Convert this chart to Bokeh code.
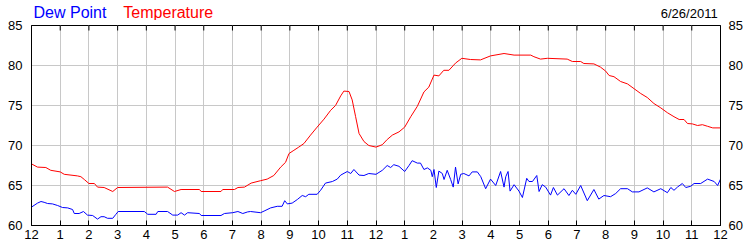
from bokeh.plotting import figure
from bokeh.layouts import column
from bokeh.models import LinearAxis, Range1d, FixedTicker, Label
from bokeh.embed import file_html
from bokeh.resources import INLINE

# ---- data (hours since midnight, degrees F) ----
temp_hours = [0.00, 0.21, 0.50, 0.67, 1.00, 1.14, 1.60, 1.72, 1.84, 2.00, 2.19, 2.30, 2.53, 2.83,
              3.00, 4.74, 4.98, 5.21, 5.85, 5.91, 6.60, 6.66, 7.07, 7.19, 7.42, 7.65,
              7.98, 8.21, 8.44, 8.68, 8.85, 8.97, 9.14, 9.31, 9.49, 9.72, 9.95, 10.19, 10.42,
              10.59, 10.77, 10.88, 11.06, 11.17, 11.29, 11.41, 11.58, 11.75, 12.00, 12.22,
              12.39, 12.57, 12.80, 13.00, 13.21, 13.44, 13.67, 13.84, 14.02, 14.19, 14.36,
              14.54, 14.77, 14.99, 15.29, 15.64, 15.99, 16.46, 16.81, 17.39, 17.50, 17.73,
              17.97, 18.66, 18.84, 19.13, 19.24, 19.59, 19.82, 20.00, 20.12, 20.29, 20.52,
              20.76, 20.99, 21.22, 21.45, 21.68, 21.92, 22.15, 22.38, 22.56, 22.73, 22.85,
              23.02, 23.20, 23.37, 23.55, 23.73, 24.00]
temperature = [67.7, 67.3, 67.25, 66.9, 66.7, 66.4, 66.2, 66.1, 65.75, 65.25, 65.25, 64.8, 64.75, 64.25,
               64.75, 64.8, 64.25, 64.5, 64.5, 64.25, 64.25, 64.5, 64.5, 64.75, 64.8, 65.3,
               65.6, 65.8, 66.25, 67.3, 67.9, 69.0, 69.4, 69.8, 70.25, 71.3, 72.3, 73.3, 74.4,
               75.0, 76.2, 76.8, 76.75, 75.7, 73.6, 71.5, 70.5, 70.0, 69.8, 70.1,
               70.75, 71.3, 71.7, 72.3, 73.6, 74.9, 76.7, 77.3, 78.8, 78.7, 79.4,
               79.4, 80.3, 80.9, 80.75, 80.7, 81.2, 81.5, 81.3, 81.3, 81.1, 80.8,
               80.9, 80.8, 80.5, 80.5, 80.25, 80.2, 79.8, 79.3, 78.75, 78.6, 78.0,
               77.7, 77.1, 76.5, 76.0, 75.25, 74.7, 74.1, 73.6, 73.25, 73.25, 72.75,
               72.7, 72.5, 72.6, 72.4, 72.2, 72.2]

dew_hours = [0.00, 0.21, 0.33, 0.44, 0.56, 0.73, 0.91, 1.08, 1.26, 1.43, 1.49, 1.66, 1.81, 1.95,
             2.13, 2.30, 2.42, 2.53, 2.65, 2.83, 2.94, 3.02, 3.93, 4.05, 4.34, 4.40, 4.74,
             4.92, 5.09, 5.21, 5.33, 5.44, 5.85, 5.91, 6.60, 6.72, 7.01, 7.19, 7.36, 7.53,
             7.63, 7.98, 8.10, 8.33, 8.56, 8.73, 8.82, 8.91, 9.08, 9.26, 9.43, 9.55, 9.66,
             9.95, 10.07, 10.24, 10.48, 10.65, 10.77, 11.00, 11.12, 11.23, 11.41, 11.58,
             11.75, 12.00, 12.22, 12.39, 12.51, 12.62, 12.80, 13.00, 13.15, 13.26, 13.44,
             13.55, 13.67, 13.79, 13.91, 13.96, 14.02, 14.10, 14.19, 14.31, 14.37, 14.48,
             14.60, 14.69, 14.77, 14.86, 14.95, 15.06, 15.24, 15.35, 15.53, 15.65, 15.82,
             15.99, 16.17, 16.34, 16.46, 16.52, 16.60, 16.67, 16.81, 16.98, 17.10, 17.25,
             17.33, 17.45, 17.60, 17.68, 17.79, 17.91, 18.08, 18.18, 18.32, 18.55, 18.72,
             18.84, 18.96, 19.13, 19.36, 19.59, 19.76, 19.94, 20.17, 20.35, 20.52, 20.76,
             20.93, 21.16, 21.45, 21.68, 21.92, 22.15, 22.27, 22.38, 22.50, 22.67, 22.79,
             22.96, 23.08, 23.31, 23.55, 23.78, 23.90, 24.00]
dew_point = [62.3, 62.8, 63.0, 62.9, 62.75, 62.7, 62.5, 62.25, 62.2, 62.0, 61.5, 61.5, 61.75, 61.3,
             61.25, 60.8, 61.1, 61.1, 60.9, 60.9, 61.4, 61.75, 61.75, 61.4, 61.4, 61.75, 61.75,
             61.3, 61.3, 61.6, 61.3, 61.6, 61.5, 61.25, 61.25, 61.5, 61.6, 61.75, 61.5, 61.7,
             61.75, 61.6, 61.8, 62.2, 62.4, 62.4, 63.1, 62.7, 62.8, 63.25, 63.75, 63.6, 63.9,
             63.9, 64.4, 65.3, 65.5, 65.8, 66.3, 66.75, 66.5, 67.0, 66.3, 66.25,
             66.5, 66.4, 66.9, 67.5, 67.25, 67.6, 67.4, 66.75, 67.5, 68.1, 67.8,
             67.8, 67.0, 67.2, 66.9, 66.1, 67.0, 64.75, 66.8, 66.5, 65.75, 66.9,
             65.75, 64.8, 67.3, 65.2, 66.4, 66.5, 66.2, 66.7, 66.7, 66.1, 64.6,
             65.8, 65.0, 66.75, 64.8, 66.1, 66.75, 64.3, 65.1, 64.3, 63.5, 65.9,
             65.5, 65.5, 66.25, 64.25, 65.1, 64.8, 63.8, 64.75, 63.8, 64.6, 63.75,
             64.4, 63.9, 65.0, 63.1, 64.5, 63.3, 63.75, 63.6, 64.0, 64.6, 64.6,
             64.2, 64.2, 64.7, 64.2, 64.6, 64.1, 64.75, 64.4, 64.8, 65.25, 64.75,
             64.9, 65.25, 65.25, 65.8, 65.5, 65.0, 65.8]

hour_ticks = list(range(0, 25))
hour_labels = ["12", "1", "2", "3", "4", "5", "6", "7", "8", "9", "10", "11",
               "12", "1", "2", "3", "4", "5", "6", "7", "8", "9", "10", "11", "12"]
temp_ticks = [60, 65, 70, 75, 80, 85]
date_text = "6/26/2011"

FONT = "Liberation Sans"
TOP_H = 20          # header strip height
MAIN_TOP = 5        # space above the main frame (room for the top "85" labels)

# ---------- header strip (legend texts + date) ----------
head = figure(width=750, height=TOP_H, output_backend="svg", toolbar_location=None,
              x_range=Range1d(0, 24), y_range=Range1d(0, TOP_H),
              min_border_left=31, min_border_right=30, min_border_top=0, min_border_bottom=0,
              x_axis_location=None, y_axis_location=None)
head.xgrid.visible = False
head.ygrid.visible = False
head.outline_line_color = None
head.background_fill_color = "white"
head.border_fill_color = "white"

# vertical centre of the texts, measured up from the strip's bottom
mid_y = TOP_H - 11.5
mid_y_date = TOP_H - 12.5
head.add_layout(Label(x=0.07, y=mid_y, text="Dew Point", text_color="#0000ff",
                      text_font=FONT, text_font_size="16px", text_baseline="middle"))
head.add_layout(Label(x=3.2, y=mid_y, text="Temperature", text_color="#ff0000",
                      text_font=FONT, text_font_size="16px", text_baseline="middle"))
head.add_layout(Label(x=23.9, y=mid_y_date, text=date_text, text_color="black",
                      text_font=FONT, text_font_size="13px", text_baseline="middle",
                      text_align="right"))

# ---------- main chart ----------
p = figure(width=750, height=250 - TOP_H, output_backend="svg", toolbar_location=None,
           x_range=Range1d(0, 24), y_range=Range1d(60, 85),
           min_border_left=31, min_border_right=30, min_border_top=MAIN_TOP,
           min_border_bottom=25, x_axis_location=None, y_axis_location=None)
p.background_fill_color = "white"
p.border_fill_color = "white"
p.outline_line_color = "black"
p.outline_line_width = 1

labels = {h: l for h, l in zip(hour_ticks, hour_labels)}

xb = LinearAxis(ticker=FixedTicker(ticks=hour_ticks), major_label_overrides=labels)
yl = LinearAxis(ticker=FixedTicker(ticks=temp_ticks))
yr = LinearAxis(ticker=FixedTicker(ticks=temp_ticks))

xb.major_tick_in = 5
xb.major_tick_out = 0
xb.minor_tick_in = 0
xb.minor_tick_out = 0
xb.axis_line_color = "black"
xb.major_tick_line_color = "black"
for ax in (yl, yr):
    ax.major_tick_in = 0
    ax.major_tick_out = 0
    ax.minor_tick_in = 0
    ax.minor_tick_out = 0
    ax.axis_line_color = "black"
for ax in (xb, yl, yr):
    ax.major_label_text_font = FONT
    ax.major_label_text_color = "black"
    ax.major_label_text_font_size = "13px"
xb.major_label_standoff = 4
yl.major_label_standoff = 9
yr.major_label_standoff = 8

p.add_layout(xb, "below")
p.add_layout(yl, "left")
p.add_layout(yr, "right")

p.xgrid.ticker = FixedTicker(ticks=hour_ticks)
p.ygrid.ticker = FixedTicker(ticks=temp_ticks)
p.xgrid.grid_line_color = "#c8c8c8"
p.ygrid.grid_line_color = "#c8c8c8"

# short tick marks along the top edge, at the hour ticks
y_top = temp_ticks[-1]
tick_len = 5 * (temp_ticks[-1] - temp_ticks[0]) / 200.0
p.segment(x0=hour_ticks, x1=hour_ticks, y0=[y_top] * len(hour_ticks),
          y1=[y_top - tick_len] * len(hour_ticks), line_color="black", line_width=1)

p.line(dew_hours, dew_point, line_color="#0000ff", line_width=1)
p.line(temp_hours, temperature, line_color="#ff0000", line_width=1)

layout = column(head, p, spacing=0)
open("out.html", "w").write(file_html(layout, INLINE))
